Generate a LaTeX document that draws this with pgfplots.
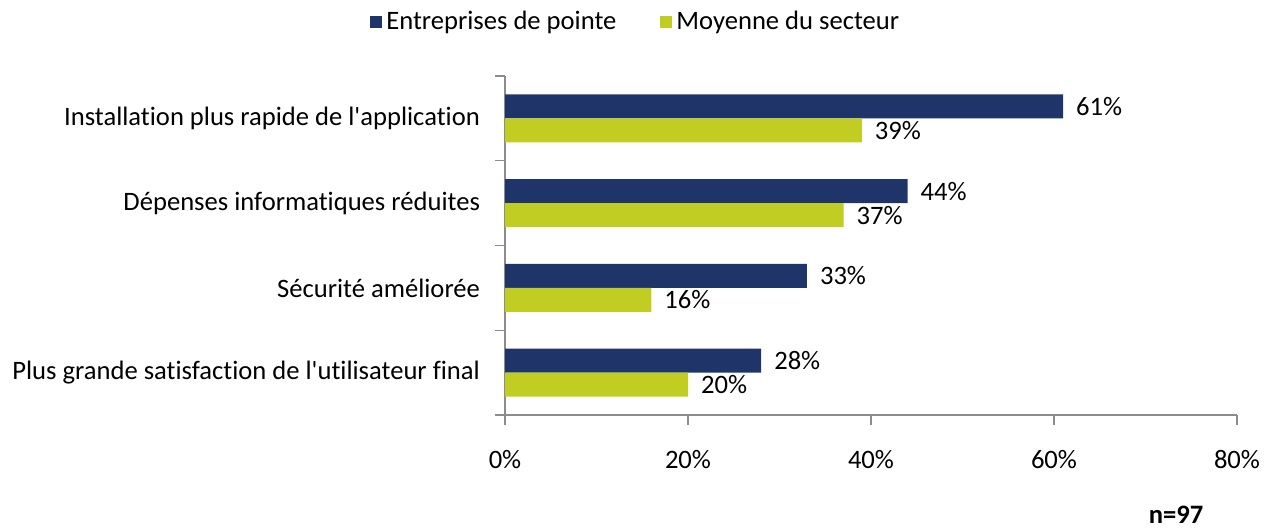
\documentclass[border=0pt]{standalone}
\usepackage{pgfplots}
\pgfplotsset{compat=1.18}
\usepackage{fontspec}
\setmainfont{Carlito}[Ligatures={TeXOff,CommonOff}]
\definecolor{navy}{HTML}{1F3468}
\definecolor{lime}{HTML}{C2CD23}
\definecolor{axgray}{HTML}{8C8C8C}
\newcommand{\fs}{\fontsize{13.3}{15}\selectfont}
\begin{document}
\begin{tikzpicture}
\path[use as bounding box] (0,0) rectangle (633.5pt,265.5pt);
\begin{axis}[
  at={(252.5pt,58pt)}, anchor=south west,
  scale only axis, width=366pt, height=169.5pt,
  xbar, bar width=12pt,
  xmin=0, xmax=80, ymin=-0.5, ymax=3.5, y dir=reverse,
  axis x line*=bottom, axis y line*=left,
  axis line style={axgray, line width=0.6pt},
  xtick={0,20,40,60,80},
  xticklabel={\pgfmathprintnumber{\tick}\%},
  tick align=outside,
  tick style={axgray, line width=0.6pt},
  major tick length=5pt,
  ytick={-0.5,0.5,1.5,2.5,3.5},
  yticklabels={},
  extra y ticks={0,1,2,3},
  extra y tick labels={Installation plus rapide de l'application, Dépenses informatiques réduites, Sécurité améliorée, Plus grande satisfaction de l'utilisateur final},
  extra y tick style={major tick length=0pt, yticklabel style={font=\fs, xshift=-9pt}},
  xticklabel style={font=\fs, yshift=-9pt},
  /pgf/number format/assume math mode=true,
  nodes near coords={\pgfmathprintnumber{\pgfplotspointmeta}\%},
  every node near coord/.append style={font=\fs, black, xshift=3pt},
  legend style={at={(0.18,1.159)}, anchor=center, draw=none, font=\fs, legend columns=2, /tikz/every even column/.append style={column sep=20pt}},
  legend image code/.code={\fill[#1] (0pt,-3pt) rectangle (6pt,3pt);},
  clip=false,
]
\addplot[fill=navy, draw=none, bar shift=6pt] coordinates {(61,0) (44,1) (33,2) (28,3)};
\addplot[fill=lime, draw=none, bar shift=-6pt] coordinates {(39,0) (37,1) (16,2) (20,3)};
\legend{Entreprises de pointe, Moyenne du secteur}
\end{axis}
\node[font=\fs\bfseries] at (588pt,8pt) {n=97};
\end{tikzpicture}
\end{document}
